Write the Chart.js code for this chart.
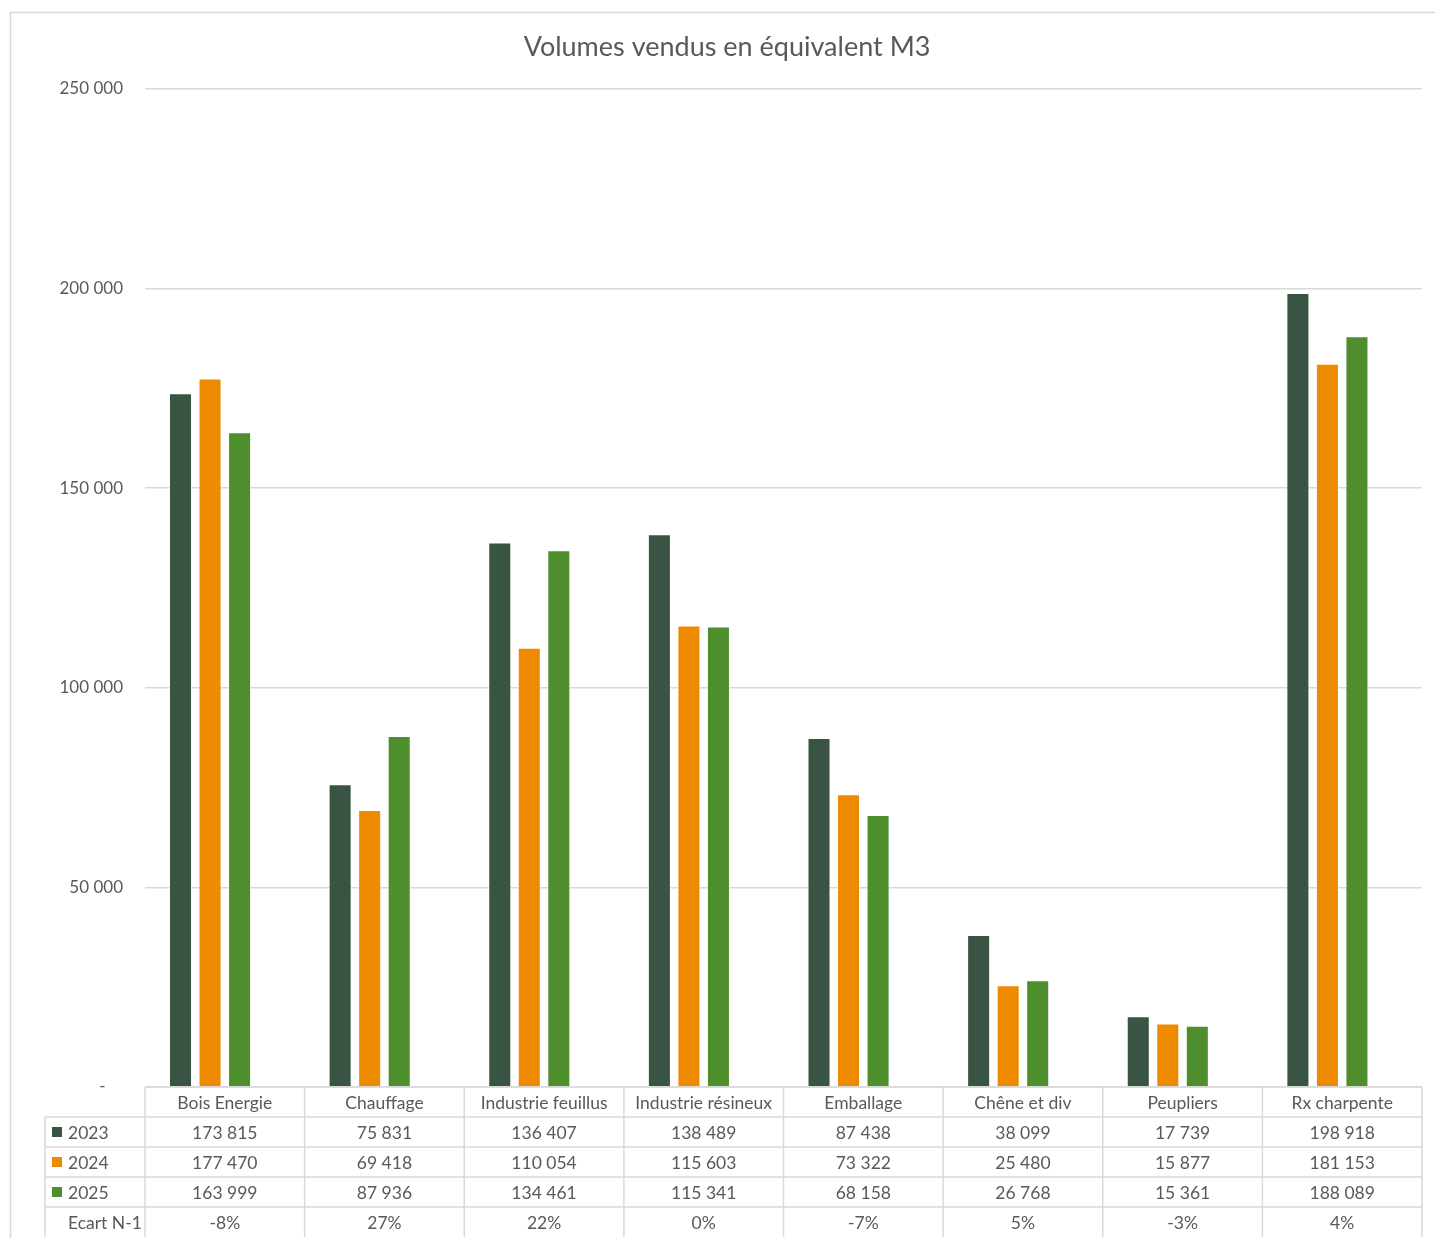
<!DOCTYPE html>
<html>
<head>
<meta charset="utf-8">
<script src="https://cdn.jsdelivr.net/npm/chart.js@4/dist/chart.umd.min.js"></script>
<style>
  html, body { margin: 0; padding: 0; background: #fff; }
  #wrap { width: 1435px; height: 1238px; position: relative; }
</style>
</head>
<body>
<div id="wrap"><canvas id="barChart"></canvas></div>
<script>
// Données
const categories = ['Bois Energie', 'Chauffage', 'Industrie feuillus', 'Industrie résineux',
                    'Emballage', 'Chêne et div', 'Peupliers', 'Rx charpente'];
const v2023 = [173815, 75831, 136407, 138489, 87438, 38099, 17739, 198918];
const v2024 = [177470, 69418, 110054, 115603, 73322, 25480, 15877, 181153];
const v2025 = [163999, 87936, 134461, 115341, 68158, 26768, 15361, 188089];
const ecart = [-8, 27, 22, 0, -7, 5, -3, 4]; // en %
const yTicks = [0, 50000, 100000, 150000, 200000, 250000];
const titre = 'Volumes vendus en équivalent M3';

const txtColor = '#595959';
const lineColor = '#d9d9d9';
const fontFam = 'Lato, "Open Sans", sans-serif';

function fmt(v) {
    return String(v).replace(/\B(?=(\d{3})+(?!\d))/g, ' ');
}

const rows = [
    { label: '2023', color: '#3a5443', values: v2023.map(fmt) },
    { label: '2024', color: '#ee8a00', values: v2024.map(fmt) },
    { label: '2025', color: '#4e8e2d', values: v2025.map(fmt) },
    { label: 'Ecart N-1', color: null, values: ecart.map(e => e + '%') }
];

// Titre + tableau de données sous le graphique (style Excel)
const dataTable = {
    id: 'dataTable',
    afterDraw(chart) {
        const ctx = chart.ctx;
        const x = chart.scales.x;
        const area = chart.chartArea;
        const step = x.getPixelForValue(1) - x.getPixelForValue(0);
        const rowH = 30;
        const top = area.bottom;
        const labelLeft = 45;
        ctx.save();

        // titre (centré comme dans Excel)
        ctx.fillStyle = txtColor;
        ctx.font = '27px ' + fontFam;
        ctx.textAlign = 'center';
        ctx.textBaseline = 'middle';
        ctx.fillText(titre, 727, 47);

        ctx.strokeStyle = lineColor;
        ctx.lineWidth = 1.5;
        ctx.beginPath();
        // ligne du haut (en-tête)
        ctx.moveTo(area.left, top);
        ctx.lineTo(area.right, top);
        for (let r = 1; r <= rows.length; r++) {
            ctx.moveTo(labelLeft, top + r * rowH);
            ctx.lineTo(area.right, top + r * rowH);
        }
        ctx.moveTo(labelLeft, top + rowH);
        ctx.lineTo(labelLeft, top + (rows.length + 1) * rowH);
        for (let i = 0; i <= categories.length; i++) {
            const xx = x.getPixelForValue(0) - step / 2 + i * step;
            ctx.moveTo(xx, top);
            ctx.lineTo(xx, top + (rows.length + 1) * rowH);
        }
        ctx.stroke();

        ctx.font = '17.5px ' + fontFam;
        categories.forEach((c, i) => {
            ctx.fillText(c, x.getPixelForValue(i), top + rowH / 2 + 1);
        });
        rows.forEach((row, r) => {
            const cy = top + (r + 1) * rowH + rowH / 2 + 1;
            row.values.forEach((v, i) => {
                ctx.fillStyle = txtColor;
                ctx.textAlign = 'center';
                ctx.fillText(v, x.getPixelForValue(i), cy);
            });
            if (row.color) {
                ctx.fillStyle = row.color;
                ctx.fillRect(52, cy - 6, 10, 10);
            }
            ctx.fillStyle = txtColor;
            ctx.textAlign = 'left';
            ctx.fillText(row.label, 68, cy);
        });

        // cadre extérieur
        ctx.beginPath();
        ctx.moveTo(10.5, chart.height);
        ctx.lineTo(10.5, 12.5);
        ctx.lineTo(chart.width, 12.5);
        ctx.stroke();
        ctx.restore();
    }
};

const config = {
    type: 'bar',
    data: {
        labels: categories,
        datasets: [
            { label: '2023', data: v2023, backgroundColor: '#3a5443' },
            { label: '2024', data: v2024, backgroundColor: '#ee8a00' },
            { label: '2025', data: v2025, backgroundColor: '#4e8e2d' },
            // série "Ecart N-1" (invisible, occupe sa place dans le groupe comme dans Excel)
            { label: 'Ecart N-1', data: ecart.map(e => e / 100), backgroundColor: 'rgba(0,0,0,0)', borderWidth: 0 }
        ]
    },
    options: {
        responsive: true,
        maintainAspectRatio: false,
        animation: false,
        categoryPercentage: 0.74,
        barPercentage: 0.78,
        borderColor: 'rgba(255,255,255,0.6)',
        borderWidth: 1,
        layout: { padding: { left: 0, right: 13, top: 89, bottom: 143 } },
        scales: {
            x: {
                ticks: { display: false },
                grid: { display: false },
                border: { display: false }
            },
            y: {
                min: 0,
                max: 250000,
                afterBuildTicks(scale) {
                    scale.ticks = yTicks.map(v => ({ value: v }));
                },
                afterFit(scale) { scale.width = 145; },
                ticks: {
                    padding: 22,
                    color: txtColor,
                    font: { size: 17, family: fontFam },
                    callback: v => v === 0 ? '-    ' : fmt(v)
                },
                grid: { color: lineColor, lineWidth: 1.5, drawTicks: false },
                border: { display: false }
            }
        },
        plugins: {
            legend: { display: false },
            title: { display: false }
        }
    },
    plugins: [dataTable]
};

const ctx = document.getElementById('barChart').getContext('2d');
const myChart = new Chart(ctx, config);
</script>
</body>
</html>
